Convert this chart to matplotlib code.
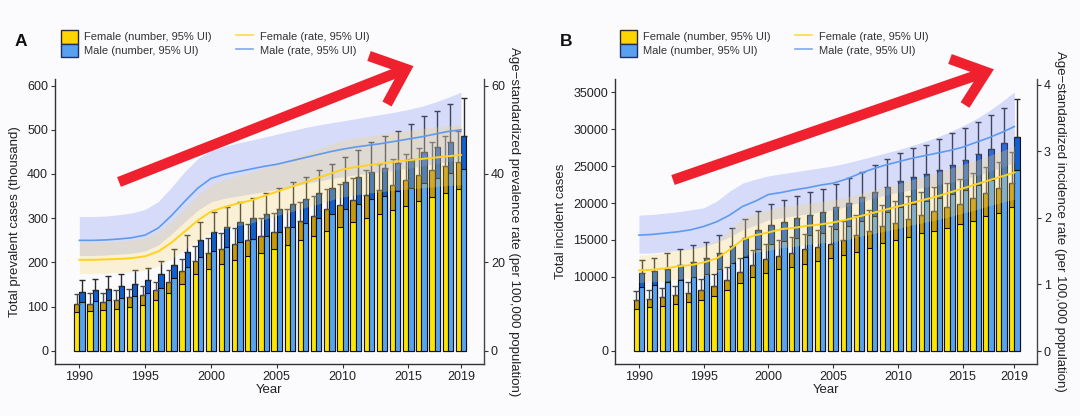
import matplotlib
matplotlib.use("Agg")
import matplotlib.pyplot as plt
import numpy as np
from matplotlib.patches import Patch
from matplotlib.lines import Line2D

plt.rcParams['font.family'] = ['Liberation Sans', 'DejaVu Sans']

# ---------------- data ----------------
years = list(range(1990, 2020))

# Panel A: prevalence (thousand cases) and age-standardized prevalence rate
a_fem_num = [107, 107, 111, 116, 121, 126, 137, 156, 180, 203, 221, 231, 241, 250, 261,
             270, 280, 293, 306, 320, 331, 341, 353, 363, 375, 386, 397, 408, 418, 427]
a_fem_lo = [88, 90, 93, 96, 100, 104, 115, 131, 152, 173, 186, 196, 205, 214, 221,
            230, 239, 250, 261, 271, 280, 291, 301, 310, 319, 328, 338, 348, 356, 367]
a_fem_hi = [128, 130, 132, 137, 139, 146, 156, 184, 209, 237, 256, 267, 277, 288, 300,
            311, 322, 336, 350, 366, 378, 392, 410, 422, 433, 446, 459, 472, 486, 497]
a_mal_num = [134, 137, 141, 146, 152, 160, 173, 195, 224, 250, 269, 281, 291, 300, 310,
             320, 332, 344, 356, 368, 381, 393, 405, 413, 425, 435, 449, 461, 473, 486]
a_mal_lo = [110, 112, 116, 120, 125, 131, 143, 164, 190, 212, 227, 236, 246, 254, 261,
            269, 280, 290, 300, 310, 321, 332, 343, 351, 362, 369, 380, 392, 403, 411]
a_mal_hi = [160, 163, 169, 175, 182, 188, 203, 230, 263, 291, 314, 325, 336, 346, 357,
            368, 381, 394, 408, 422, 438, 455, 473, 485, 498, 512, 530, 543, 558, 572]
a_fem_rate = [20.6, 20.6, 20.7, 20.8, 21.0, 21.4, 22.5, 24.5, 27.0, 29.5, 31.5, 32.5, 33.3, 34.0, 35.0,
              36.0, 37.0, 38.0, 39.0, 40.0, 41.0, 41.6, 42.0, 42.4, 42.8, 43.1, 43.4, 43.7, 44.0, 44.3]
a_fem_rate_lo = [17.5, 17.5, 17.6, 17.7, 17.9, 18.2, 19.2, 20.8, 22.9, 25.0, 26.7, 27.6, 28.3, 28.9, 29.7,
                 30.6, 31.4, 32.3, 33.1, 34.0, 34.8, 35.3, 35.7, 36.0, 36.4, 36.6, 36.9, 37.1, 37.4, 37.6]
a_fem_rate_hi = [24.6, 24.6, 24.7, 24.8, 25.1, 25.5, 26.9, 29.3, 32.2, 35.2, 37.5, 38.7, 39.6, 40.3, 41.3,
                 42.3, 43.4, 44.5, 45.5, 46.6, 47.6, 48.2, 48.6, 49.1, 49.5, 49.9, 50.3, 50.6, 50.9, 51.2]
a_mal_rate = [25.0, 25.0, 25.1, 25.3, 25.6, 26.2, 27.8, 30.6, 33.8, 36.8, 39.0, 39.9, 40.5, 41.1, 41.7,
              42.2, 42.9, 43.6, 44.3, 45.0, 45.6, 46.1, 46.5, 46.9, 47.4, 47.9, 48.4, 49.0, 49.6, 50.0]
a_mal_rate_lo = [21.6, 21.6, 21.7, 21.9, 22.1, 22.6, 24.0, 26.4, 29.2, 31.8, 33.7, 34.5, 35.0, 35.5, 36.0,
                 36.5, 37.1, 37.7, 38.3, 38.9, 39.4, 39.8, 40.2, 40.5, 40.9, 41.3, 41.8, 42.3, 42.8, 43.2]
a_mal_rate_hi = [30.4, 30.4, 30.5, 30.8, 31.2, 32.0, 33.8, 37.0, 40.5, 43.5, 45.3, 46.2, 47.0, 47.6, 48.3,
                 49.0, 49.7, 50.4, 51.0, 51.5, 52.0, 52.5, 53.0, 53.5, 54.0, 54.6, 55.3, 56.2, 57.3, 58.5]

# Panel B: incidence (cases) and age-standardized incidence rate
b_fem_num = [6830, 6960, 7280, 7500, 7810, 8260, 8840, 9640, 10710, 11610, 12410, 12860, 13300, 13750, 14060,
             14510, 15000, 15670, 16200, 16870, 17320, 17900, 18350, 18880, 19420, 19870, 20630, 21300, 21970, 22770]
b_fem_lo = [5710, 5940, 6030, 6380, 6610, 6920, 7410, 8260, 9150, 9960, 10540, 11070, 11380, 11740, 12100,
            12500, 12950, 13440, 13970, 14550, 14960, 15400, 15890, 16210, 16650, 17100, 17630, 18210, 18660, 19420]
b_fem_hi = [8080, 8260, 8530, 8840, 9290, 9730, 10400, 11290, 12500, 13620, 14420, 15000, 15400, 15850, 16290,
            16900, 17600, 18400, 19000, 19700, 20300, 20900, 21500, 22100, 22700, 23300, 24000, 24800, 25600, 26900]
b_mal_num = [10490, 10760, 11070, 11650, 12050, 12540, 13210, 14200, 15310, 16290, 17010, 17450, 17990, 18350, 18790,
             19400, 20050, 20760, 21520, 22190, 22950, 23530, 23970, 24510, 25180, 25760, 26560, 27320, 28130, 28970]
b_mal_lo = [8620, 8970, 9290, 9640, 10040, 10400, 11070, 11870, 12720, 13750, 14420, 14870, 15220, 15620, 15980,
            16430, 16950, 17550, 18180, 18750, 19400, 19880, 20260, 20720, 21280, 21770, 22450, 23090, 23770, 24480]
b_mal_hi = [12280, 12630, 13210, 13750, 14290, 14780, 15620, 16650, 17900, 18880, 19900, 20400, 21000, 21450, 21950,
            22600, 23400, 24250, 25100, 25900, 26800, 27450, 27900, 28600, 29400, 30100, 31000, 31900, 32900, 34000]
b_fem_rate = [1.21, 1.22, 1.24, 1.27, 1.29, 1.33, 1.39, 1.52, 1.67, 1.74, 1.78, 1.83, 1.85, 1.88, 1.90,
              1.93, 1.97, 2.02, 2.07, 2.12, 2.17, 2.22, 2.27, 2.32, 2.38, 2.44, 2.50, 2.56, 2.62, 2.68]
b_fem_rate_lo = [1.03, 1.04, 1.05, 1.08, 1.10, 1.13, 1.18, 1.29, 1.42, 1.48, 1.51, 1.55, 1.57, 1.60, 1.62,
                 1.64, 1.67, 1.72, 1.76, 1.80, 1.84, 1.89, 1.93, 1.97, 2.02, 2.07, 2.12, 2.18, 2.23, 2.28]
b_fem_rate_hi = [1.44, 1.45, 1.48, 1.51, 1.54, 1.58, 1.65, 1.81, 1.99, 2.07, 2.12, 2.17, 2.19, 2.22, 2.24,
                 2.27, 2.31, 2.36, 2.41, 2.46, 2.51, 2.57, 2.62, 2.68, 2.74, 2.80, 2.86, 2.93, 3.00, 3.08]
b_mal_rate = [1.74, 1.75, 1.77, 1.79, 1.82, 1.87, 1.94, 2.04, 2.17, 2.25, 2.35, 2.38, 2.42, 2.45, 2.49,
              2.52, 2.58, 2.66, 2.73, 2.79, 2.84, 2.89, 2.93, 2.97, 3.01, 3.06, 3.13, 3.20, 3.28, 3.37]
b_mal_rate_lo = [1.47, 1.47, 1.49, 1.51, 1.53, 1.57, 1.63, 1.71, 1.82, 1.89, 1.97, 2.00, 2.03, 2.06, 2.09,
                 2.12, 2.17, 2.23, 2.29, 2.34, 2.38, 2.42, 2.46, 2.49, 2.53, 2.57, 2.63, 2.69, 2.76, 2.83]
b_mal_rate_hi = [2.04, 2.05, 2.07, 2.09, 2.12, 2.15, 2.25, 2.40, 2.52, 2.58, 2.63, 2.66, 2.69, 2.72, 2.75,
                 2.78, 2.82, 2.87, 2.92, 2.97, 3.02, 3.08, 3.14, 3.21, 3.29, 3.38, 3.48, 3.60, 3.74, 3.89]

xticks = [1990, 1995, 2000, 2005, 2010, 2015, 2019]
a_left_ticks = [0, 100, 200, 300, 400, 500, 600]
a_right_ticks = [0, 20, 40, 60]
b_left_ticks = [0, 10000, 15000, 20000, 25000, 30000, 35000]
b_right_ticks = [0, 1, 2, 3, 4]

legend_labels = ["Female (number, 95% UI)", "Male (number, 95% UI)",
                 "Female (rate, 95% UI)", "Male (rate, 95% UI)"]

# ---------------- style ----------------
W, H = 1080, 416
BG = '#FBFBFE'
FEM_LIGHT = '#FFE600'
FEM_DARK = '#C99A08'
MAL_LIGHT = '#55A3F3'
MAL_DARK = '#1160D2'
FEM_LINE = '#FFD21F'
MAL_LINE = '#5E9BEF'
FEM_BAND = '#F4D46D'
MAL_BAND = '#7789ED'
TXT = '#222222'
ARROW = '#F0212E'

fig = plt.figure(figsize=(W / 100, H / 100), dpi=100)
fig.patch.set_facecolor(BG)


def px_axes(x0, x1, ytop, ybot):
    return fig.add_axes([x0 / W, 1 - ybot / H, (x1 - x0) / W, (ybot - ytop) / H])


def panel(x0, x1, num, rate, ylim, ylim2, lticks, rticks, ylabel, ylabel2, letter, letter_x,
          leg_x, arrow):
    fn, fl, fh, mn, ml, mh = [np.array(v, float) for v in num]
    fr, frl, frh, mr, mrl, mrh = [np.array(v, float) for v in rate]
    x = np.array(years, float)
    bw = 0.4

    ax = px_axes(x0, x1, 79, 364)
    ax.set_facecolor(BG)
    ax.bar(x - bw / 2, fn, bw, color=FEM_DARK, edgecolor='#111111', linewidth=0.8, zorder=2)
    ax.bar(x - bw / 2, fl, bw, color=FEM_LIGHT, edgecolor='#111111', linewidth=0.8, zorder=3)
    ax.bar(x + bw / 2, mn, bw, color=MAL_DARK, edgecolor='#111111', linewidth=0.8, zorder=2)
    ax.bar(x + bw / 2, ml, bw, color=MAL_LIGHT, edgecolor='#111111', linewidth=0.8, zorder=3)
    z = np.zeros_like(fn)
    ax.errorbar(x - bw / 2, fn, yerr=[z, fh - fn], fmt='none', ecolor='#4a4a4a',
                elinewidth=1.0, capsize=2.2, capthick=1.0, zorder=4)
    ax.errorbar(x + bw / 2, mn, yerr=[z, mh - mn], fmt='none', ecolor='#2a2a2a',
                elinewidth=1.0, capsize=2.2, capthick=1.0, zorder=4)
    ax.set_xlim(1988.15, 2020.75)
    ax.set_ylim(*ylim)
    ax.set_xticks(xticks)
    ax.set_yticks(lticks)
    ax.set_xlabel('Year', fontsize=9.5, color=TXT, labelpad=1)
    ax.set_ylabel(ylabel, fontsize=9.5, color=TXT, labelpad=4)
    for s in ['top', 'right']:
        ax.spines[s].set_visible(False)
    for s in ['left', 'bottom']:
        ax.spines[s].set_color('#333333')
        ax.spines[s].set_linewidth(1.0)
    ax.tick_params(length=3, width=0.8, color='#333333', labelsize=9, labelcolor=TXT, pad=2)

    ax2 = ax.twinx()
    ax2.fill_between(x, mrl, mrh, color=MAL_BAND, alpha=0.28, linewidth=0, zorder=1)
    ax2.fill_between(x, frl, frh, color=FEM_BAND, alpha=0.28, linewidth=0, zorder=1)
    ax2.plot(x, mr, color=MAL_LINE, linewidth=1.2, zorder=3)
    ax2.plot(x, fr, color=FEM_LINE, linewidth=1.4, zorder=3)
    ax2.set_ylim(*ylim2)
    ax2.set_yticks(rticks)
    ax2.set_ylabel(ylabel2, fontsize=9.5, color=TXT, rotation=270, labelpad=11)
    for s in ['top', 'left', 'bottom']:
        ax2.spines[s].set_visible(False)
    ax2.spines['right'].set_color('#444444')
    ax2.spines['right'].set_linewidth(1.0)
    ax2.tick_params(length=3, width=0.8, color='#333333', labelsize=9, labelcolor=TXT, pad=2)

    fig.text(letter_x / W, 1 - 41 / H, letter, fontsize=12.5, fontweight='bold',
             color='#111111', va='center', ha='left')

    handles = [Patch(facecolor='#FFD400', edgecolor='#2a2a2a', linewidth=1.0),
               Patch(facecolor='#5AA0F0', edgecolor='#1f3060', linewidth=1.0),
               Line2D([], [], color='#FFD84A', linewidth=1.2),
               Line2D([], [], color='#80A8F0', linewidth=1.2)]
    fig.legend(handles, legend_labels, loc='upper left',
               bbox_to_anchor=(leg_x / W, 1 - 30 / H), ncol=2, frameon=False,
               fontsize=8, labelcolor='#333333', borderpad=0, borderaxespad=0,
               handlelength=1.5, handleheight=1.5, labelspacing=0.0,
               handletextpad=0.6, columnspacing=2.2)

    # decorative red trend arrow (figure pixels, y from top)
    (tx, ty), (hx, hy), (u1x, u1y), (u2x, u2y) = arrow
    tf = fig.transFigure
    fig.add_artist(Line2D([tx / W, hx / W], [1 - ty / H, 1 - hy / H], color=ARROW,
                          linewidth=7.5, solid_capstyle='butt', transform=tf))
    fig.add_artist(Line2D([u1x / W, hx / W, u2x / W], [1 - u1y / H, 1 - hy / H, 1 - u2y / H],
                          color=ARROW, linewidth=7.5, solid_capstyle='butt',
                          solid_joinstyle='miter', transform=tf))
    return ax, ax2


panel(55, 484,
      (a_fem_num, a_fem_lo, a_fem_hi, a_mal_num, a_mal_lo, a_mal_hi),
      (a_fem_rate, a_fem_rate_lo, a_fem_rate_hi, a_mal_rate, a_mal_rate_lo, a_mal_rate_hi),
      (-29.4, 614.7), (-2.94, 61.47), a_left_ticks, a_right_ticks,
      'Total prevalent cases (thousand)',
      'Age\u2212standardized prevalence rate (per 100,000 population)',
      'A', 15, 61,
      ((119, 182), (406, 69), (369, 56), (387, 104)))

panel(615, 1037,
      (b_fem_num, b_fem_lo, b_fem_hi, b_mal_num, b_mal_lo, b_mal_hi),
      (b_fem_rate, b_fem_rate_lo, b_fem_rate_hi, b_mal_rate, b_mal_rate_lo, b_mal_rate_hi),
      (-1757, 36757), (-0.195, 4.084), b_left_ticks, b_right_ticks,
      'Total incident cases',
      'Age\u2212standardized incidence rate (per 100,000 population)',
      'B', 560, 620,
      ((673, 180), (986, 72), (950, 59), (965, 105)))

fig.savefig('out.png', dpi=100, facecolor=BG)
